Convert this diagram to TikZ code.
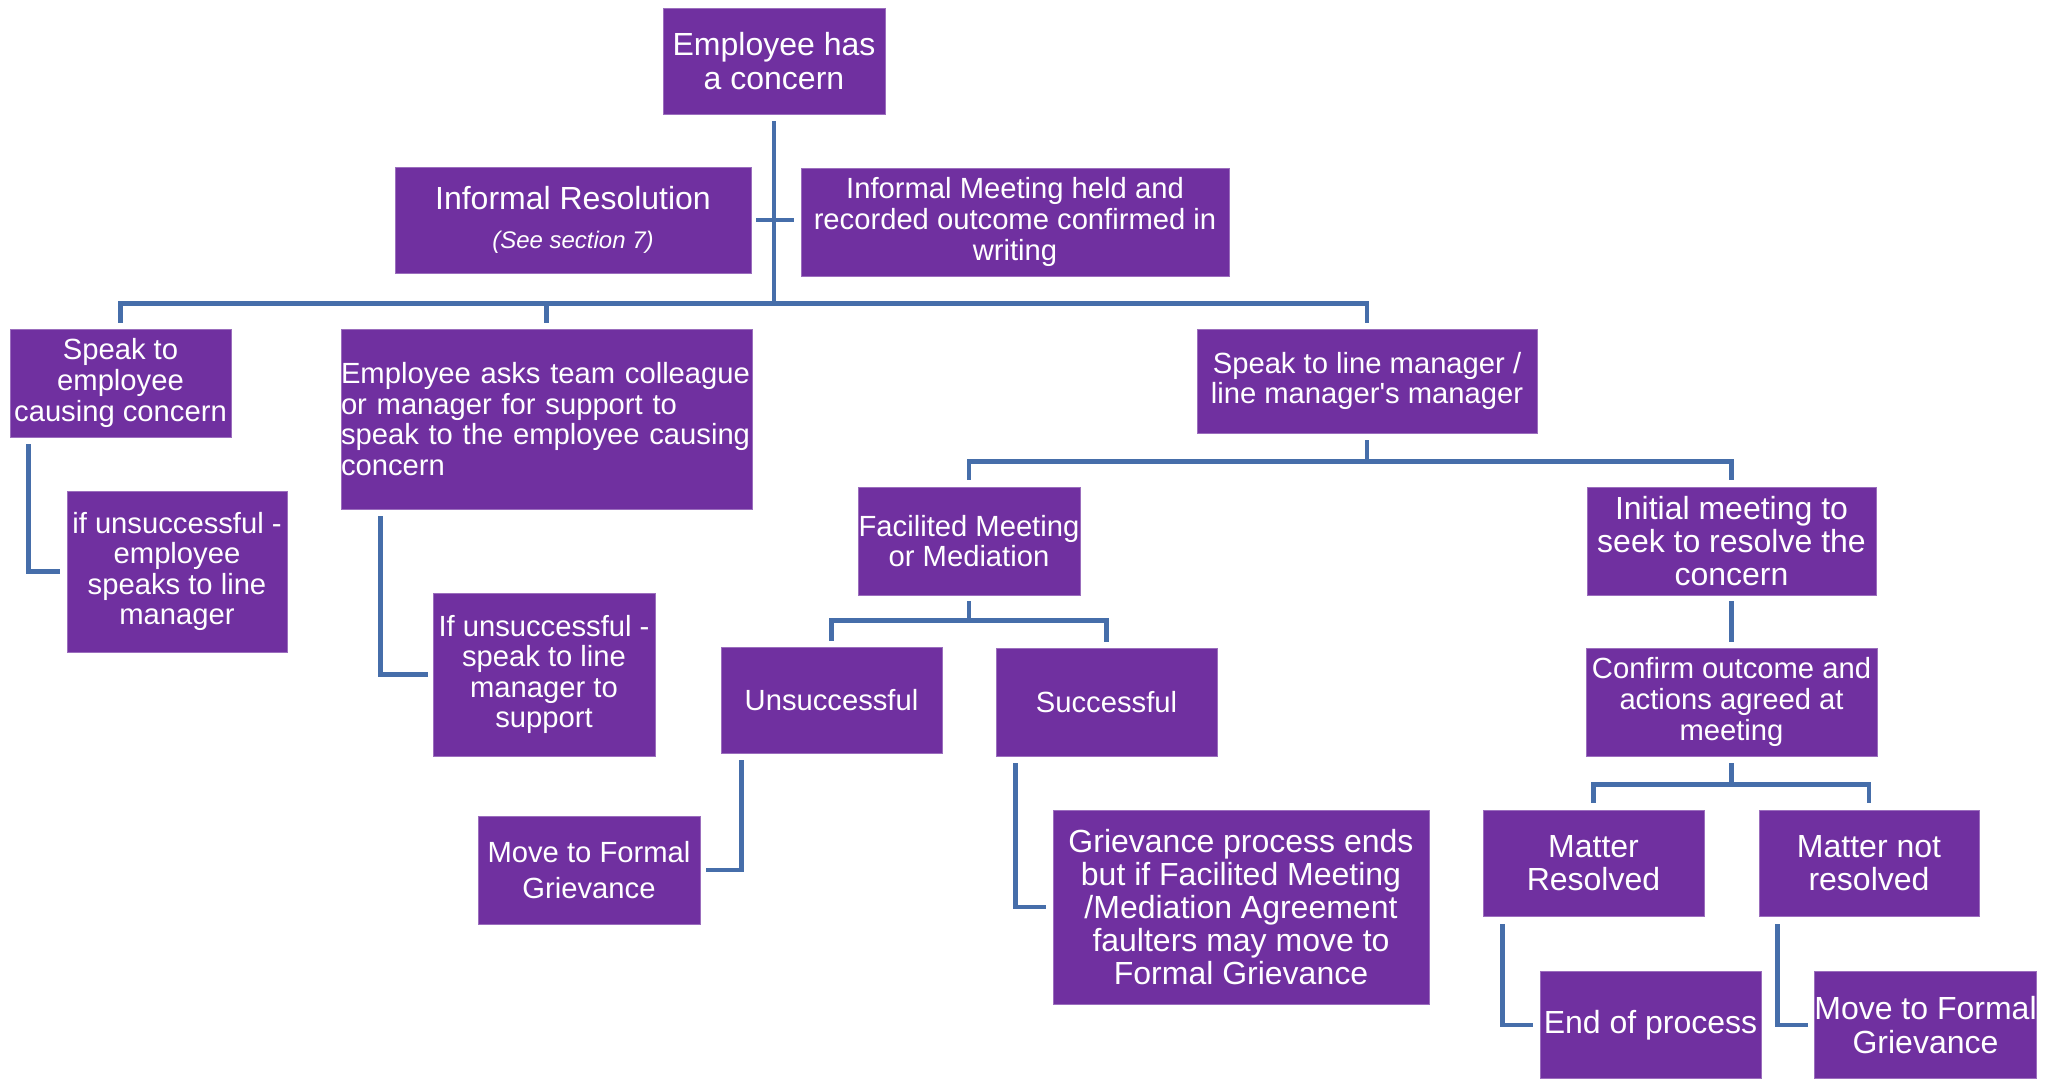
\documentclass[tikz,border=0pt]{standalone}
\usepackage{fontspec}
\setmainfont{Liberation Sans}
\usepackage{xcolor}
\usepackage{tikz}
\usetikzlibrary{calc}

\definecolor{boxpurple}{RGB}{112,48,160}
\definecolor{linkblue}{RGB}{70,110,170}

\newcommand{\txtnorm}{\fontsize{14.6}{15.3}\selectfont}
\newcommand{\txtbig}{\fontsize{16}{16.6}\selectfont}

\begin{document}
\begin{tikzpicture}[x=0.5pt,y=-0.5pt,
  box/.style={fill=boxpurple,draw=boxpurple!70!white,line width=0.4pt,text=white,align=center,inner sep=0pt,font=\txtnorm},
  link/.style={draw=linkblue,line width=2.2pt}]
\useasboundingbox (0,0) rectangle (2058,1079);

% top of the tree
\node[box,minimum width=111pt,minimum height=53pt,font=\txtbig] (concern) at (774,61) {Employee has\\a concern};
\node[box,minimum width=178pt,minimum height=53pt,font=\txtbig] (informal) at (573,220) {Informal Resolution\\[3pt]{\fontsize{12}{14}\selectfont\itshape (See section 7)}};
\node[box,minimum width=214pt,minimum height=54pt] (meeting) at (1015,222) {Informal Meeting held and\\recorded outcome confirmed in\\writing};

% first level
\node[box,minimum width=110.5pt,minimum height=54pt] (speakemp) at (120.5,383) {Speak to\\employee\\causing concern};
\node[box,minimum width=205.5pt,minimum height=90pt,text width=205.5pt,align=left] (asks) at (546.5,419) {Employee asks team colleague\\or manager for support to\\speak to the employee causing\\concern};
\node[box,minimum width=170pt,minimum height=52pt] (speaklm) at (1367,381) {Speak to line manager /\\line manager\textquotesingle s manager};

% second level
\node[box,minimum width=110pt,minimum height=80.5pt] (ifunsemp) at (177,571.5) {if unsuccessful -\\employee\\speaks to line\\manager};
\node[box,minimum width=111pt,minimum height=81.5pt] (ifunssup) at (544,674.5) {If unsuccessful -\\speak to line\\manager to\\support};
\node[box,minimum width=111pt,minimum height=54pt] (facilited) at (969,541) {Facilited Meeting\\or Mediation};
\node[box,minimum width=144.5pt,minimum height=54pt,font=\txtbig] (initial) at (1731.5,541) {Initial meeting to\\seek to resolve the\\concern};

% third level
\node[box,minimum width=110.5pt,minimum height=53pt] (unsucc) at (831.5,700) {Unsuccessful};
\node[box,minimum width=110.5pt,minimum height=54pt] (succ) at (1106.5,702) {Successful};
\node[box,minimum width=145.5pt,minimum height=54pt] (confirm) at (1731.5,702) {Confirm outcome and\\actions agreed at\\meeting};

% outcomes
\node[box,minimum width=111pt,minimum height=54pt,font={\fontsize{14.6}{17.7}\selectfont}] (formal) at (589,870) {Move to Formal\\Grievance};
\node[box,minimum width=188pt,minimum height=97pt,font=\txtbig] (ends) at (1241,907) {Grievance process ends\\but if Facilited Meeting\\/Mediation Agreement\\faulters may move to\\Formal Grievance};
\node[box,minimum width=110.5pt,minimum height=53pt,font=\txtbig] (resolved) at (1593.5,863) {Matter\\Resolved};
\node[box,minimum width=110pt,minimum height=53pt,font=\txtbig] (notres) at (1869,863) {Matter not\\resolved};
\node[box,minimum width=110.5pt,minimum height=53.5pt,font=\txtbig] (endproc) at (1650.5,1025) {End of process};
\node[box,minimum width=110.5pt,minimum height=53.5pt,font=\txtbig] (formaltwo) at (1925.5,1025) {Move to Formal\\Grievance};

% connectors
\draw[link] ([yshift=-3.5pt]concern.south) -- ++(0,-91pt) -| ([yshift=3pt]speakemp.north);
\draw[link] ([yshift=-3.5pt]concern.south) -- ++(0,-91pt) -| ([yshift=3pt]asks.north);
\draw[link] ([yshift=-3.5pt]concern.south) -- ++(0,-91pt) -| ([yshift=3pt]speaklm.north);
\draw[link] ([xshift=2.5pt]informal.east) -- ([xshift=-3.5pt]informal.east -| meeting.west);

\draw[link] ([xshift=9.5pt,yshift=-3.5pt]speakemp.south west) |- ([xshift=-3.5pt]ifunsemp.west);
\draw[link] ([xshift=20pt,yshift=-3.5pt]asks.south west) |- ([xshift=-2.5pt]ifunssup.west);

\draw[link] ([yshift=-3.5pt]speaklm.south) -- ++(0,-10.5pt) -| ([yshift=3.5pt]facilited.north);
\draw[link] ([yshift=-3.5pt]speaklm.south) -- ++(0,-10.5pt) -| ([yshift=3.5pt]initial.north);

\draw[link] ([yshift=-3pt]facilited.south) -- ++(0,-9.5pt) -| ([yshift=3pt]unsucc.north);
\draw[link] ([yshift=-3pt]facilited.south) -- ++(0,-9.5pt) -| ([yshift=3pt]succ.north);
\draw[link] ([yshift=-3pt]initial.south) -- ([yshift=3pt]confirm.north);

\draw[link] ([yshift=-3.5pt]confirm.south) -- ++(0,-10.5pt) -| ([yshift=3.5pt]resolved.north);
\draw[link] ([yshift=-3.5pt]confirm.south) -- ++(0,-10.5pt) -| ([yshift=3.5pt]notres.north);

\draw[link] ([xshift=10.5pt,yshift=-3.5pt]unsucc.south west) |- ([xshift=3pt]formal.east);
\draw[link] ([xshift=10pt,yshift=-3.5pt]succ.south west) |- ([xshift=-3.5pt]ends.west);
\draw[link] ([xshift=10pt,yshift=-4pt]resolved.south west) |- ([xshift=-3.5pt]endproc.west);
\draw[link] ([xshift=9.5pt,yshift=-4pt]notres.south west) |- ([xshift=-3pt]formaltwo.west);
\end{tikzpicture}
\end{document}
